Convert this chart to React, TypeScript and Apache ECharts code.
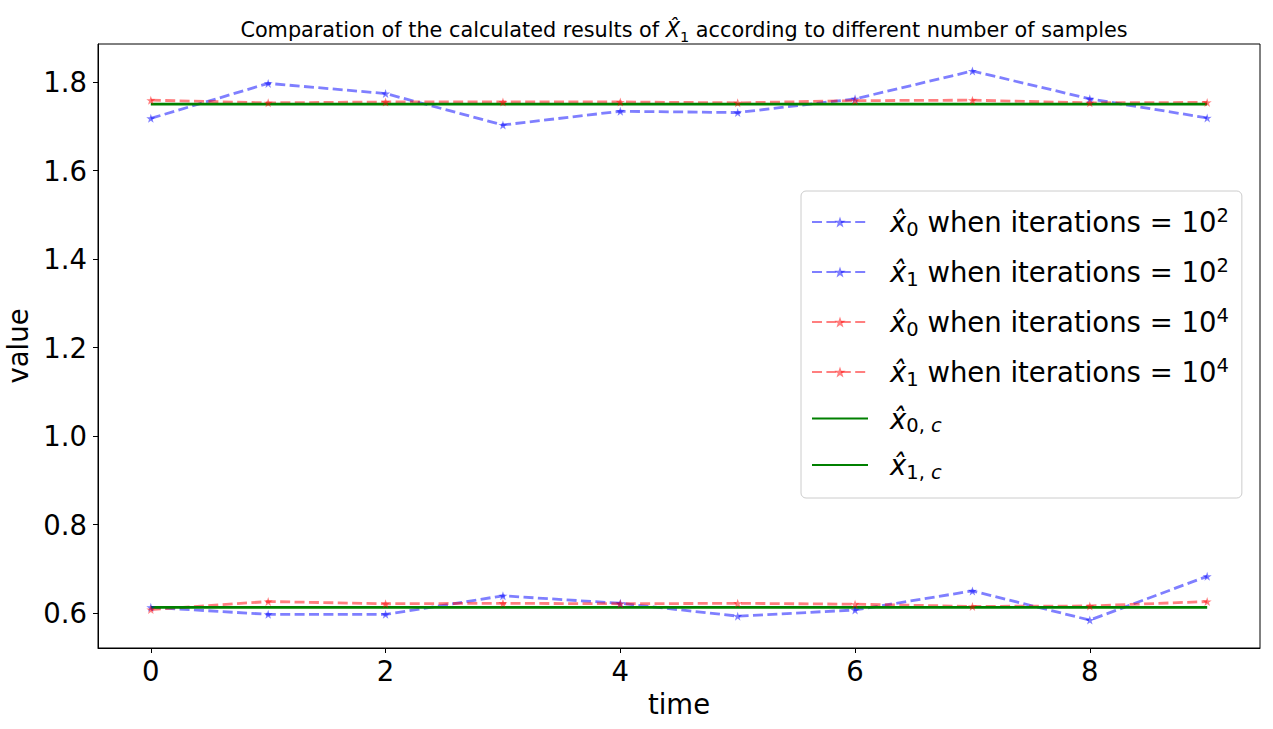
import React, { useEffect, useRef } from "react";
import * as echarts from "echarts";

const times = [0, 1, 2, 3, 4, 5, 6, 7, 8, 9];
const blueX0 = [1.718, 1.797, 1.774, 1.703, 1.734, 1.731, 1.762, 1.825, 1.762, 1.719];
const blueX1 = [0.613, 0.597, 0.597, 0.639, 0.622, 0.593, 0.607, 0.65, 0.584, 0.683];
const redX0 = [1.759, 1.753, 1.755, 1.755, 1.755, 1.753, 1.758, 1.759, 1.753, 1.754];
const redX1 = [0.608, 0.626, 0.621, 0.622, 0.621, 0.622, 0.62, 0.615, 0.616, 0.626];
const greenX0 = [1.75, 1.75, 1.75, 1.75, 1.75, 1.75, 1.75, 1.75, 1.75, 1.75];
const greenX1 = [0.613, 0.613, 0.613, 0.613, 0.613, 0.613, 0.613, 0.613, 0.613, 0.613];
const xTicks = [0, 2, 4, 6, 8];
const yTicks = [0.6, 0.8, 1.0, 1.2, 1.4, 1.6, 1.8];

const seriesNames = ["b0", "b1", "r0", "r1", "g0", "g1"];
const legendLabels: Record<string, string> = {
  b0: "{sp|}{x|x̂}{sb|0}{t| when iterations = 10}{sup|2}",
  b1: "{sp|}{x|x̂}{sb|1}{t| when iterations = 10}{sup|2}",
  r0: "{sp|}{x|x̂}{sb|0}{t| when iterations = 10}{sup|4}",
  r1: "{sp|}{x|x̂}{sb|1}{t| when iterations = 10}{sup|4}",
  g0: "{sp|}{x|x̂}{sb|0, }{sbi|c}",
  g1: "{sp|}{x|x̂}{sb|1, }{sbi|c}",
};

const STAR =
  "path://M50,0 L61.8,35.1 L97.6,34.5 L68.8,56.1 L79.4,90.5 L50,70 L20.6,90.5 L31.2,56.1 L2.4,34.5 L38.2,35.1 Z";

const FONT = "DejaVu Sans";
const FS = 27.5;

function pairs(ys: number[]) {
  return times.map((t, i) => [t, ys[i]]);
}

export default function App() {
  const ref = useRef<HTMLDivElement>(null);
  useEffect(() => {
    document.body.style.margin = "0";
    if (!ref.current) return;
    const chart = echarts.init(ref.current, undefined, { renderer: "svg" });
    const dashedSeries = (name: string, ys: number[], color: string) => ({
      name,
      type: "line",
      data: pairs(ys),
      symbol: STAR,
      symbolSize: 9,
      showSymbol: true,
      lineStyle: { color, width: 2.8, type: [10, 4.4], opacity: 0.5 },
      itemStyle: { color, opacity: 0.5, borderWidth: 0 },
      emphasis: { disabled: true },
    });
    const solidSeries = (name: string, ys: number[]) => ({
      name,
      type: "line",
      data: pairs(ys),
      symbol: "none",
      lineStyle: { color: "#008000", width: 2.8, type: "solid" },
      itemStyle: { color: "#008000" },
      emphasis: { disabled: true },
    });
    const legendData = seriesNames.map((n) =>
      n.startsWith("g") ? { name: n, itemStyle: { opacity: 0 } } : { name: n }
    );
    const tStyle = { fontFamily: FONT, fontSize: 20.8, color: "#000", fontWeight: "normal", lineHeight: 28 };
    chart.setOption({
      animation: false,
      textStyle: { fontFamily: FONT },
      title: {
        text:
          "{t|Comparation of the calculated results of }{x|X̂}{s|1}{t| according to different number of samples}",
        left: 679,
        textAlign: "center",
        top: 11,
        textStyle: {
          fontWeight: "normal",
          rich: {
            t: tStyle,
            x: { ...tStyle, fontStyle: "italic" },
            s: { fontFamily: FONT, fontSize: 14.5, color: "#000", fontWeight: "normal", lineHeight: 15, verticalAlign: "bottom" },
          },
        },
      },
      grid: {
        left: 98,
        right: 13,
        top: 44,
        bottom: 81,
        show: true,
        borderColor: "#000",
        borderWidth: 1,
        backgroundColor: "transparent",
        containLabel: false,
        outerBoundsMode: "none",
      },
      legend: {
        orient: "vertical",
        left: 801,
        top: 191,
        padding: [14, 13, 16, 10],
        itemWidth: 56,
        itemHeight: 14,
        itemGap: 16,
        data: legendData,
        formatter: (name: string) => legendLabels[name],
        backgroundColor: "rgba(255,255,255,0.8)",
        borderColor: "#cccccc",
        borderWidth: 1,
        borderRadius: 5,
        selectedMode: false,
        textStyle: {
          color: "#000",
          rich: {
            sp: { width: 17, lineHeight: 34 },
            x: { fontFamily: FONT, fontSize: FS, fontStyle: "italic", color: "#000", lineHeight: 34 },
            t: { fontFamily: FONT, fontSize: FS, color: "#000", lineHeight: 34 },
            sb: { fontFamily: FONT, fontSize: 19.5, color: "#000", lineHeight: 20, verticalAlign: "bottom" },
            sbi: { fontFamily: FONT, fontSize: 19.5, fontStyle: "italic", color: "#000", lineHeight: 20, verticalAlign: "bottom" },
            sup: { fontFamily: FONT, fontSize: 19.5, color: "#000", lineHeight: 18, verticalAlign: "top" },
          },
        },
      },
      xAxis: {
        type: "value",
        min: -0.45,
        max: 9.45,
        name: "time",
        nameLocation: "middle",
        nameGap: 42,
        nameTextStyle: { fontFamily: FONT, fontSize: FS, color: "#000" },
        axisLine: { show: true, onZero: false, lineStyle: { color: "#000", width: 1 } },
        axisTick: { show: true, length: 5, lineStyle: { color: "#000", width: 1 }, customValues: xTicks },
        axisLabel: { fontFamily: FONT, fontSize: FS, color: "#000", margin: 9, customValues: xTicks },
        splitLine: { show: false },
      },
      yAxis: {
        type: "value",
        min: 0.521,
        max: 1.886,
        name: "value",
        nameLocation: "middle",
        nameGap: 66,
        nameTextStyle: { fontFamily: FONT, fontSize: FS, color: "#000" },
        axisLine: { show: true, onZero: false, lineStyle: { color: "#000", width: 1 } },
        axisTick: { show: true, length: 5, lineStyle: { color: "#000", width: 1 }, customValues: yTicks },
        axisLabel: {
          fontFamily: FONT,
          fontSize: FS,
          color: "#000",
          margin: 11,
          customValues: yTicks,
          formatter: (v: number) => v.toFixed(1),
        },
        splitLine: { show: false },
      },
      series: [
        dashedSeries("b0", blueX0, "#0000ff"),
        dashedSeries("b1", blueX1, "#0000ff"),
        dashedSeries("r0", redX0, "#ff0000"),
        dashedSeries("r1", redX1, "#ff0000"),
        solidSeries("g0", greenX0),
        solidSeries("g1", greenX1),
      ],
    });
    return () => chart.dispose();
  }, []);
  return <div ref={ref} style={{ width: 1273, height: 729 }} />;
}
